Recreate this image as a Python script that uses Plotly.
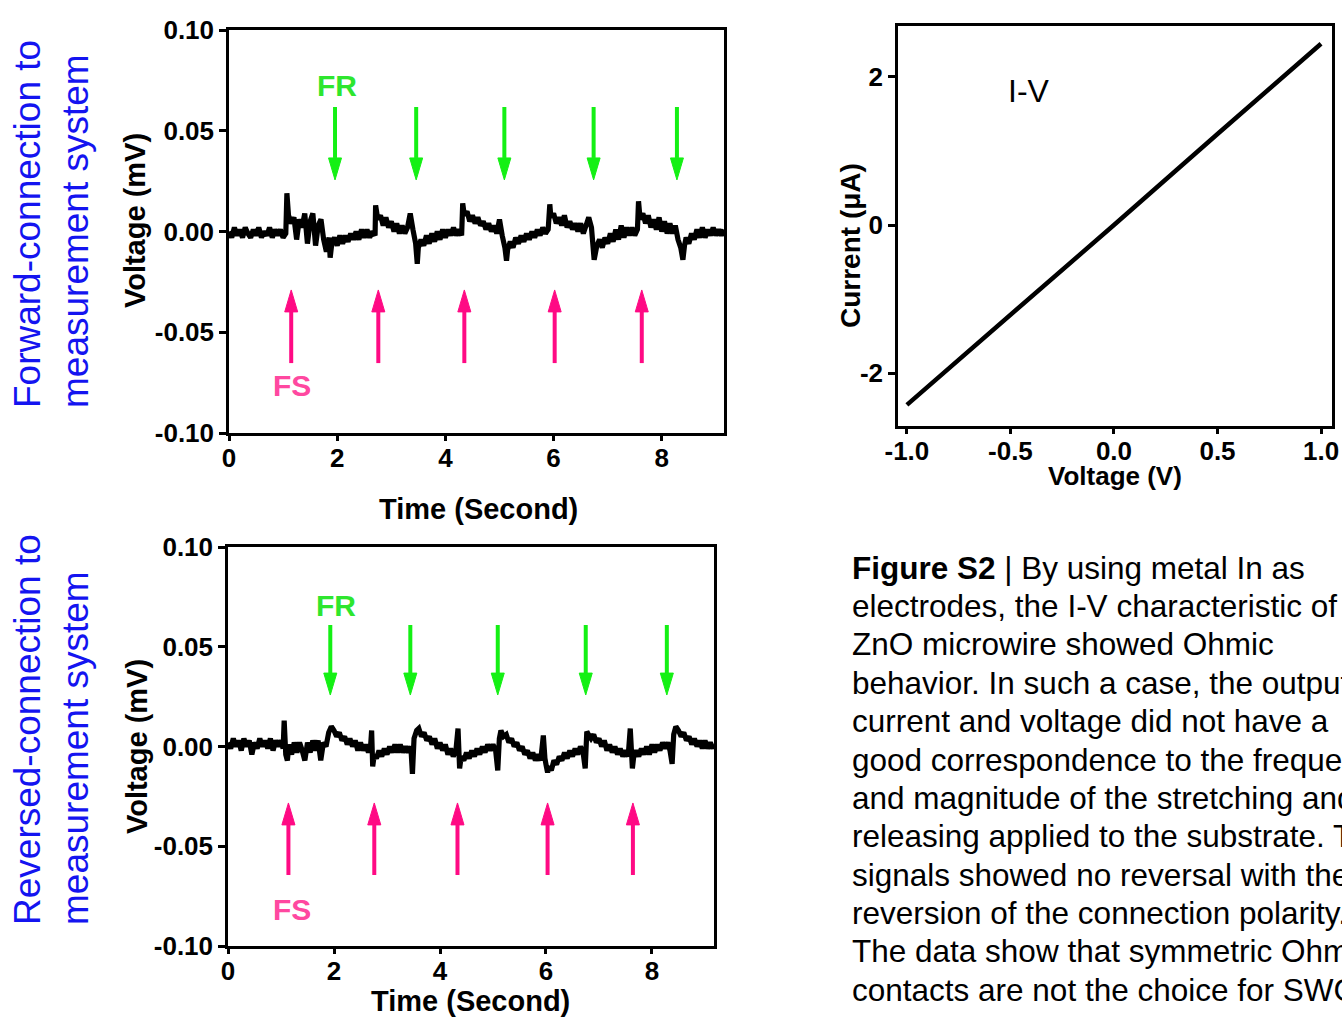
import plotly.graph_objects as go

# ---------------- data ----------------
# Forward connection trace (Time in s, Voltage in mV)
top_t = [0.00,0.05,0.10,0.15,0.20,0.25,0.30,0.35,0.40,0.45,0.50,0.55,0.60,0.65,0.70,0.75,0.80,0.85,0.90,0.95,1.00,1.05,
         1.07,1.10,1.15,1.20,1.25,1.30,1.35,1.40,1.45,1.50,1.55,1.60,1.65,1.70,1.75,1.80,1.85,1.87,1.90,1.95,2.00,
         2.05,2.10,2.15,2.20,2.25,2.30,2.35,2.40,2.45,2.50,2.55,2.60,2.65,2.70,2.71,
         2.75,2.80,2.85,2.90,2.95,3.00,3.05,3.10,3.15,3.20,3.25,3.30,3.35,3.40,3.45,3.48,3.50,3.55,
         3.60,3.65,3.70,3.75,3.80,3.85,3.90,3.95,4.00,4.05,4.10,4.15,4.20,4.25,4.30,4.32,4.35,
         4.40,4.45,4.50,4.55,4.60,4.65,4.70,4.75,4.80,4.85,4.90,4.95,5.00,5.05,5.10,5.13,5.15,5.20,
         5.25,5.30,5.35,5.40,5.45,5.50,5.55,5.60,5.65,5.70,5.75,5.80,5.85,5.90,5.93,5.95,
         6.00,6.05,6.10,6.15,6.20,6.25,6.30,6.35,6.40,6.45,6.50,6.55,6.60,6.65,6.70,6.75,6.80,6.85,
         6.90,6.95,7.00,7.05,7.10,7.15,7.20,7.25,7.30,7.35,7.40,7.45,7.50,7.55,7.57,7.60,
         7.65,7.70,7.75,7.80,7.85,7.90,7.95,8.00,8.05,8.10,8.15,8.20,8.25,8.30,8.35,8.39,8.42,8.45,
         8.50,8.55,8.60,8.65,8.70,8.75,8.80,8.85,8.90,8.95,9.00,9.05,9.10,9.15]
top_v = [0.000,-0.003,0.002,-0.002,0.001,-0.003,0.002,-0.001,-0.003,0.001,-0.002,0.002,-0.003,0.000,-0.002,0.002,-0.003,0.001,-0.002,0.001,-0.003,-0.001,
         0.019,0.008,0.004,0.007,-0.004,0.006,0.002,0.009,-0.006,0.005,0.009,-0.007,0.003,0.006,-0.004,-0.010,-0.003,-0.013,-0.006,-0.003,-0.007,
         -0.002,-0.006,-0.002,-0.005,-0.001,-0.004,0.000,-0.004,0.001,-0.003,0.001,-0.003,0.000,-0.002,0.013,
         0.006,0.008,0.003,0.007,0.002,0.005,0.000,0.004,-0.001,0.003,-0.001,0.002,0.009,0.001,-0.006,-0.016,-0.008,-0.004,
         -0.007,-0.002,-0.006,-0.001,-0.005,0.000,-0.004,0.001,-0.003,0.001,-0.002,0.002,-0.002,0.001,-0.002,0.014,0.008,
         0.010,0.005,0.008,0.004,0.007,0.003,0.005,0.001,0.004,0.000,0.003,-0.001,0.006,-0.002,-0.008,-0.0145,-0.009,-0.005,
         -0.008,-0.003,-0.006,-0.002,-0.005,-0.001,-0.004,0.000,-0.003,0.001,-0.002,0.002,-0.001,0.001,0.0135,0.007,
         0.009,0.004,0.007,0.003,0.008,0.002,0.005,0.001,0.004,0.000,0.004,-0.001,0.003,0.007,0.002,-0.014,-0.007,-0.004,
         -0.008,-0.003,-0.006,-0.001,-0.005,0.001,-0.004,0.003,-0.003,0.002,-0.002,0.002,-0.002,0.001,0.015,0.006,
         0.009,0.004,0.008,0.002,0.006,0.001,0.007,0.000,0.005,-0.001,0.004,-0.001,0.003,-0.004,-0.008,-0.014,-0.007,-0.003,
         -0.006,-0.001,-0.004,0.001,-0.003,0.002,-0.003,0.001,-0.002,0.002,-0.002,0.001,-0.002,0.001]

# Reversed connection trace
bot_t = [0.00,0.05,0.10,0.15,0.20,0.25,0.30,0.35,0.40,0.45,0.50,0.55,0.60,0.65,0.70,0.75,0.80,0.85,0.90,0.95,1.00,1.04,
         1.06,1.09,1.12,1.15,1.20,1.25,1.30,1.35,1.40,1.45,1.50,1.55,1.60,1.65,1.70,1.75,1.80,1.85,1.90,1.95,2.00,
         2.05,2.10,2.15,2.20,2.25,2.30,2.35,2.40,2.45,2.50,2.55,2.60,2.65,2.69,2.71,2.73,2.76,2.80,2.85,2.90,2.95,
         3.00,3.05,3.10,3.15,3.20,3.25,3.30,3.35,3.40,3.45,3.48,3.51,3.56,3.60,3.65,3.70,3.75,3.80,3.85,3.90,3.95,
         4.00,4.05,4.10,4.15,4.20,4.25,4.30,4.34,4.37,4.40,4.45,4.50,4.55,4.60,4.65,4.70,4.75,4.80,4.85,4.90,4.95,
         5.00,5.05,5.09,5.12,5.15,5.20,5.25,5.30,5.35,5.40,5.45,5.50,5.55,5.60,5.65,5.70,5.75,5.80,5.85,5.90,5.95,5.98,
         6.00,6.03,6.06,6.10,6.15,6.20,6.25,6.30,6.35,6.40,6.45,6.50,6.55,6.60,6.65,6.70,6.74,6.77,6.80,6.85,6.90,6.95,
         7.00,7.05,7.10,7.15,7.20,7.25,7.30,7.35,7.40,7.45,7.50,7.55,7.59,7.63,7.66,7.70,7.75,7.80,7.85,7.90,7.95,
         8.00,8.05,8.10,8.15,8.20,8.25,8.30,8.34,8.38,8.41,8.45,8.50,8.55,8.60,8.65,8.70,8.75,8.80,8.85,8.90,8.95,
         9.00,9.05,9.10,9.15,9.17]
bot_v = [0.002,-0.001,0.004,0.000,0.003,-0.002,0.004,0.000,0.003,-0.004,0.002,-0.001,0.004,0.000,0.003,-0.001,0.004,-0.002,0.003,0.000,0.003,-0.001,
         0.013,-0.004,-0.007,0.001,-0.004,0.002,-0.003,0.002,-0.002,-0.007,0.002,-0.003,0.003,-0.002,0.003,-0.007,0.002,0.000,0.007,0.010,0.008,
         0.005,0.007,0.003,0.005,0.001,0.004,0.000,0.003,-0.002,0.002,-0.002,0.001,-0.003,0.000,0.008,-0.010,-0.004,-0.006,-0.002,-0.005,-0.001,
         -0.004,0.000,-0.003,0.001,-0.003,0.001,-0.003,0.000,-0.003,0.000,-0.0137,0.004,0.008,0.009,0.005,0.007,0.003,0.005,0.001,0.004,-0.001,
         0.002,-0.002,0.001,-0.004,-0.001,-0.005,-0.002,0.009,-0.011,-0.005,-0.007,-0.003,-0.006,-0.002,-0.005,-0.001,-0.004,0.000,-0.003,0.001,-0.002,
         0.001,-0.002,-0.012,0.004,0.008,0.005,0.006,0.002,0.004,0.000,0.002,-0.002,0.000,-0.004,-0.002,-0.006,-0.003,-0.007,-0.004,-0.007,0.0055,-0.006,
         -0.009,-0.013,-0.010,-0.012,-0.007,-0.009,-0.005,-0.007,-0.003,-0.006,-0.002,-0.005,-0.001,-0.004,0.000,-0.003,-0.011,0.0075,0.006,0.004,0.006,0.002,
         0.004,0.000,0.003,-0.002,0.001,-0.003,0.000,-0.004,-0.001,-0.005,-0.002,-0.005,0.009,-0.011,-0.004,-0.002,-0.005,-0.001,-0.004,0.000,-0.004,
         0.001,-0.003,0.001,-0.002,0.002,-0.001,0.002,-0.002,-0.0087,0.006,0.010,0.008,0.005,0.007,0.003,0.005,0.001,0.004,0.000,0.003,-0.001,
         0.003,-0.001,0.002,-0.001,0.001]

# I-V characteristic
iv_v = [-1.0, -0.5, 0.0, 0.5, 1.0]
iv_i = [-2.43, -1.22, 0.0, 1.23, 2.45]

# Arrow positions (s) and extents (mV)
top_fr_t = [1.96, 3.46, 5.09, 6.74, 8.28]
top_fs_t = [1.15, 2.76, 4.35, 6.02, 7.63]
bot_fr_t = [1.93, 3.44, 5.09, 6.75, 8.28]
bot_fs_t = [1.14, 2.76, 4.33, 6.03, 7.64]
top_fr_y = (0.0618, 0.0256)   # (tail, tip)
top_fs_y = (-0.0653, -0.0290)
bot_fr_y = (0.0609, 0.0258)
bot_fs_y = (-0.0644, -0.0283)

left_yticks = [-0.10, -0.05, 0.00, 0.05, 0.10]
left_yticktext = ["-0.10", "-0.05", "0.00", "0.05", "0.10"]
left_xticks = [0, 2, 4, 6, 8]
iv_xticks = [-1.0, -0.5, 0.0, 0.5, 1.0]
iv_xticktext = ["-1.0", "-0.5", "0.0", "0.5", "1.0"]
iv_yticks = [-2, 0, 2]
iv_yticktext = ["-2", "0", "2"]

caption_lines = [
    "<b>Figure S2</b> | By using metal In as",
    "electrodes, the I-V characteristic of",
    "ZnO microwire showed Ohmic",
    "behavior. In such a case, the output",
    "current and voltage did not have a",
    "good correspondence to the frequency",
    "and magnitude of the stretching and",
    "releasing applied to the substrate. The",
    "signals showed no reversal with the",
    "reversion of the connection polarity.",
    "The data show that symmetric Ohmic",
    "contacts are not the choice for SWG.",
]

# ---------------- layout helpers ----------------
W, H = 1342, 1017
FONT = "Liberation Sans, Arial, sans-serif"
GREEN, GREEN_TXT = "#14f014", "#2ee62e"
PINK, PINK_TXT = "#ff0a84", "#ff48a0"
BLUE = "#1414f0"


def px(x):
    return x / W


def py(y):
    return 1 - y / H


fig = go.Figure()
fig.add_trace(go.Scatter(x=top_t, y=top_v, mode="lines",
                         line=dict(color="black", width=5.2, simplify=False),
                         xaxis="x", yaxis="y", showlegend=False))
fig.add_trace(go.Scatter(x=bot_t, y=bot_v, mode="lines",
                         line=dict(color="black", width=5.2, simplify=False),
                         xaxis="x2", yaxis="y2", showlegend=False))
fig.add_trace(go.Scatter(x=iv_v, y=iv_i, mode="lines", line=dict(color="black", width=4.5),
                         xaxis="x3", yaxis="y3", showlegend=False))

axis_common = dict(showline=True, linecolor="black", linewidth=2.5, mirror=True,
                   ticks="outside", ticklen=7, tickwidth=2.5, tickcolor="black",
                   showgrid=False, zeroline=False, automargin=False,
                   tickfont=dict(family=FONT, size=26, color="black", weight="bold"))
x_common = dict(axis_common, ticklen=5, ticklabelstandoff=-5)

fig.update_layout(
    template="none",
    width=W, height=H, margin=dict(l=0, r=0, t=0, b=0, pad=0), autosize=False,
    paper_bgcolor="white", plot_bgcolor="white",
    xaxis=dict(domain=[px(229), px(724)], range=[0, 9.15], tickvals=left_xticks, anchor="y", **x_common),
    yaxis=dict(domain=[py(433), py(30)], range=[-0.1, 0.1], tickvals=left_yticks,
               ticktext=left_yticktext, anchor="x", **axis_common),
    xaxis2=dict(domain=[px(228), px(714)], range=[0, 9.17], tickvals=left_xticks, anchor="y2", **x_common),
    yaxis2=dict(domain=[py(946), py(547)], range=[-0.1, 0.1], tickvals=left_yticks,
                ticktext=left_yticktext, anchor="x2", **axis_common),
    xaxis3=dict(domain=[px(898), px(1332)], range=[-1.043, 1.053], tickvals=iv_xticks,
                ticktext=iv_xticktext, anchor="y3", **x_common),
    yaxis3=dict(domain=[py(426), py(26)], range=[-2.716, 2.689], tickvals=iv_yticks,
                ticktext=iv_yticktext, anchor="x3", **axis_common),
)

shapes = []


def add_arrows(xr, yr, times, ys, head_len, half_w, color):
    tail, tip = ys
    d = 1 if tip > tail else -1
    for t in times:
        base = tip - d * head_len
        shapes.append(dict(type="line", xref=xr, yref=yr, x0=t, x1=t, y0=tail, y1=base,
                           line=dict(color=color, width=4)))
        shapes.append(dict(type="path", xref=xr, yref=yr,
                           path=f"M {t - half_w},{base} L {t},{tip} L {t + half_w},{base} Z",
                           fillcolor=color, line=dict(color=color, width=1)))


add_arrows("x", "y", top_fr_t, top_fr_y, 0.0109, 0.12, GREEN)
add_arrows("x", "y", top_fs_t, top_fs_y, 0.0109, 0.12, PINK)
add_arrows("x2", "y2", bot_fr_t, bot_fr_y, 0.011, 0.123, GREEN)
add_arrows("x2", "y2", bot_fs_t, bot_fs_y, 0.011, 0.123, PINK)
fig.update_layout(shapes=shapes)

ann = []


def text(x, y, s, size, color="black", bold=False, angle=0, xanchor="center", align="center"):
    ann.append(dict(x=px(x), y=py(y), xref="paper", yref="paper", text=s, showarrow=False,
                    xanchor=xanchor, yanchor="middle", textangle=angle, align=align,
                    borderpad=0, font=dict(family=FONT, size=size, color=color,
                                           weight="bold" if bold else "normal")))


# panel labels (blue)
text(51, 224, "Forward-connection to<br>measurement system", 37, BLUE, angle=-90, align="left")
text(51, 730, "Reversed-connection to<br>measurement system", 37, BLUE, angle=-90, align="left")
# axis titles
text(135, 221, "Voltage (mV)", 29, bold=True, angle=-90)
text(137, 747, "Voltage (mV)", 29, bold=True, angle=-90)
text(478, 509, "Time (Second)", 29, bold=True)
text(471, 1001, "Time (Second)", 29, bold=True)
text(851, 246, "Current (\u03bcA)", 28, bold=True, angle=-90)
text(1115, 476, "Voltage (V)", 26, bold=True)
# FR / FS labels
text(337, 85, "FR", 30, GREEN_TXT, bold=True)
text(292, 386, "FS", 30, PINK_TXT, bold=True)
text(336, 605, "FR", 30, GREEN_TXT, bold=True)
text(292, 909, "FS", 30, PINK_TXT, bold=True)
# I-V label
text(1029, 91, "I-V", 32)
# caption
cap_y = [568, 606, 644, 683, 721, 760, 798, 836, 875, 913, 951, 990]
for yy, line in zip(cap_y, caption_lines):
    text(851, yy, line, 31.5, xanchor="left", align="left")

fig.update_layout(annotations=ann)
fig.write_html("out.html")
